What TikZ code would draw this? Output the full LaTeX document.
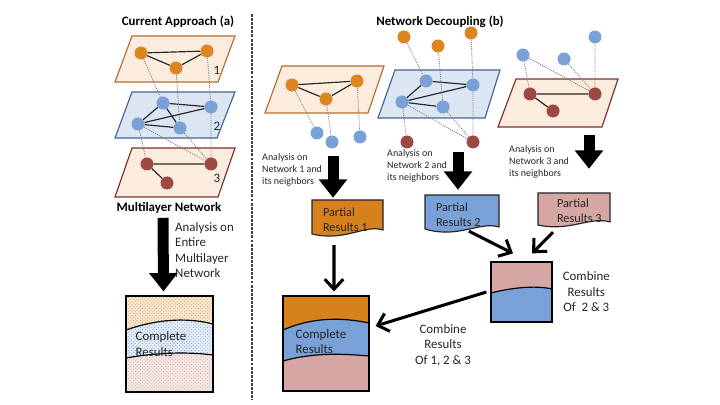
\documentclass[tikz,border=0pt]{standalone}
\usepackage{fontspec}
\setmainfont{Carlito}
\usepackage{tikz}
\usetikzlibrary{arrows.meta,positioning,patterns}

\definecolor{orangen}{RGB}{219,133,35}
\definecolor{bluen}{RGB}{122,160,216}
\definecolor{redn}{RGB}{158,72,68}
\definecolor{peach}{RGB}{252,236,222}
\definecolor{paleblue}{RGB}{220,230,242}
\definecolor{orangeb}{RGB}{180,110,50}
\definecolor{blueb}{RGB}{70,100,150}
\definecolor{redb}{RGB}{120,50,45}
\definecolor{rose}{RGB}{214,166,164}
\definecolor{resorange}{RGB}{214,128,30}

\begin{document}
\begin{tikzpicture}[x=0.03cm, y=-0.03cm,
    onode/.style={circle, fill=orangen, minimum size=0.39cm, inner sep=0pt},
    bnode/.style={circle, fill=bluen, minimum size=0.39cm, inner sep=0pt},
    rnode/.style={circle, fill=redn, minimum size=0.39cm, inner sep=0pt},
    ln/.style={line width=1pt, black!85},
    dl/.style={line width=0.7pt, gray, dash pattern=on 0.9pt off 0.9pt},
    plane/.style={line width=1pt},
    ttl/.style={font=\bfseries\fontsize{11}{13}\selectfont, inner sep=0pt},
    lbl/.style={font=\fontsize{11}{13.2}\selectfont, text=black!85, inner sep=0pt},
    small/.style={font=\fontsize{8.5}{10.2}\selectfont, text=black!85, inner sep=0pt, align=left},
    box/.style={draw, line width=1pt, inner sep=0pt},
    doc/.style={inner sep=0pt},
    bigarrow/.style={line width=0.33cm, -{Triangle[width=0.82cm, length=0.55cm]}},
    arr/.style={line width=2.6pt, -{Straight Barb[length=0.3cm, width=0.56cm]}}]

    \useasboundingbox (0,0) rectangle (720,405);

    % divider
    \draw[line width=1.5pt, black!75, dash pattern=on 2.5pt off 1pt] (252,14) -- (252,400);

    % titles
    \node[ttl] (ta) at (178,22) {Current Approach (a)};
    \node[ttl] (tb) at (440,22) {Network Decoupling (b)};

    % multilayer planes
    \filldraw[plane, fill=peach, draw=orangeb] (132,36) -- (235,36) -- (218,82) -- (115,82) -- cycle;
    \filldraw[plane, fill=paleblue, draw=blueb] (132,92) -- (235,92) -- (217,138) -- (115,138) -- cycle;
    \filldraw[plane, fill=peach, draw=redb] (132,148) -- (235,148) -- (218,197) -- (115,197) -- cycle;
    \node[lbl] (l1) at (217,70) {1};
    \node[lbl] (l2) at (217,126) {2};
    \node[lbl] (l3) at (217,178) {3};

    \node[onode] (lo1) at (141,53) {};
    \node[onode] (lo2) at (207,51) {};
    \node[onode] (lo3) at (176,68) {};
    \node[bnode] (lb1) at (163,103) {};
    \node[bnode] (lb2) at (211,107) {};
    \node[bnode] (lb3) at (138,124) {};
    \node[bnode] (lb4) at (180,128) {};
    \node[rnode] (lr1) at (147,164) {};
    \node[rnode] (lr2) at (211,164) {};
    \node[rnode] (lr3) at (167,183) {};

    \draw[ln] (lo1) -- (lo2) (lo1) -- (lo3) (lo3) -- (lo2);
    \draw[ln] (lb1) -- (lb2) (lb1) -- (lb3) (lb1) -- (lb4) (lb3) -- (lb2) (lb3) -- (lb4);
    \draw[ln] (lr1) -- (lr2) (lr1) -- (lr3);
    \draw[dl] (lo1) -- (lb1) (lo3) -- (lb4) (lo2) -- (lb2);
    \draw[dl] (lb3) -- (lr1) (lb3) -- (lr2) (lb4) -- (lr2) (lb2) -- (lr2);

    \node[ttl] (ml) at (169,208) {Multilayer Network};

    % network 1 and neighbors
    \filldraw[plane, fill=peach, draw=orangeb] (282,66) -- (384,66) -- (368,113) -- (265,113) -- cycle;
    \node[onode] (o1) at (292,85) {};
    \node[onode] (o2) at (357,81) {};
    \node[onode] (o3) at (326,99) {};
    \node[bnode] (b1) at (317,133) {};
    \node[bnode] (b2) at (332,142) {};
    \node[bnode] (b3) at (360,137) {};
    \draw[ln] (o1) -- (o2) (o1) -- (o3) (o3) -- (o2);
    \draw[dl] (o1) -- (b1) (o3) -- (b2) (o2) -- (b3);

    % network 2 and neighbors
    \filldraw[plane, fill=paleblue, draw=blueb] (395,70) -- (500,70) -- (485,118) -- (378,118) -- cycle;
    \node[bnode] (b4) at (426,81) {};
    \node[bnode] (b5) at (473,85) {};
    \node[bnode] (b6) at (402,102) {};
    \node[bnode] (b7) at (443,107) {};
    \node[onode] (o4) at (404,37) {};
    \node[onode] (o5) at (438,46) {};
    \node[onode] (o6) at (471,33) {};
    \node[rnode] (r1) at (407,142) {};
    \node[rnode] (r2) at (473,142) {};
    \draw[ln] (b4) -- (b5) (b4) -- (b6) (b6) -- (b5) (b6) -- (b7);
    \draw[dl] (o4) -- (b4) (o5) -- (b7) (o6) -- (b5);
    \draw[dl] (b6) -- (r1) (b6) -- (r2) (b7) -- (r2) (b5) -- (r2);

    % network 3 and neighbors
    \filldraw[plane, fill=peach, draw=redb] (516,79) -- (618,79) -- (602,127) -- (498,127) -- cycle;
    \node[rnode] (r3) at (530,94) {};
    \node[rnode] (r4) at (595,94) {};
    \node[rnode] (r5) at (553,111) {};
    \node[bnode] (b8) at (523,55) {};
    \node[bnode] (b9) at (564,59) {};
    \node[bnode] (b10) at (595,37) {};
    \draw[ln] (r3) -- (r4) (r3) -- (r5);
    \draw[dl] (b8) -- (r3) (b8) -- (r4) (b9) -- (r4) (b10) -- (r4);

    % analysis labels
    \node[lbl, anchor=west, align=left] (aml) at (175,250) {Analysis on\\Entire\\Multilayer\\Network};
    \node[small, anchor=west] (an1) at (262,170) {Analysis on\\Network 1 and\\its neighbors};
    \node[small, anchor=west] (an2) at (387,166) {Analysis on\\Network 2 and\\its neighbors};
    \node[small, anchor=west] (an3) at (509,162) {Analysis on\\Network 3 and\\its neighbors};

    % complete results, left (textured)
    \fill[resorange!18] (126,296) -- (213,296) -- (213,324) .. controls (190,318) and (160,318) .. (126,330) -- cycle;
    \fill[pattern=crosshatch dots, pattern color=resorange!80] (126,296) -- (213,296) -- (213,324) .. controls (190,318) and (160,318) .. (126,330) -- cycle;
    \fill[bluen!18] (213,324) .. controls (190,318) and (160,318) .. (126,330) -- (126,358) .. controls (160,352) and (190,352) .. (213,355) -- cycle;
    \fill[pattern=crosshatch dots, pattern color=bluen] (213,324) .. controls (190,318) and (160,318) .. (126,330) -- (126,358) .. controls (160,352) and (190,352) .. (213,355) -- cycle;
    \fill[rose!25] (126,358) .. controls (160,352) and (190,352) .. (213,355) -- (213,392) -- (126,392) -- cycle;
    \fill[pattern=crosshatch dots, pattern color=rose] (126,358) .. controls (160,352) and (190,352) .. (213,355) -- (213,392) -- (126,392) -- cycle;
    \draw[line width=1pt] (213,324) .. controls (190,318) and (160,318) .. (126,330);
    \draw[line width=1pt] (126,358) .. controls (160,352) and (190,352) .. (213,355);
    \node[box, minimum width=2.61cm, minimum height=2.88cm,
          label={[lbl, anchor=west, align=left, xshift=0.3cm]west:{Complete\\Results}}] (cl) at (169.5,344) {};

    \draw[bigarrow] ([xshift=-0.18cm, yshift=-0.12cm]ml.south) -- ([xshift=-0.18cm, yshift=0.12cm]cl.north);

    % partial results
    \filldraw[fill=resorange, draw=black!85, line width=1pt] (312,200) -- (383,200) -- (383,230) .. controls (365,224) and (345,242) .. (312,234) -- cycle;
    \filldraw[fill=bluen, draw=black!85, line width=1pt] (425,195) -- (499,195) -- (499,227) .. controls (480,221) and (458,239) .. (425,229) -- cycle;
    \filldraw[fill=rose, draw=black!85, line width=1pt] (538,193) -- (610,193) -- (610,222) .. controls (590,216) and (570,232) .. (538,225) -- cycle;
    \node[doc, minimum width=2.13cm, minimum height=1.05cm,
          label={[lbl, font=\fontsize{10.5}{12.8}\selectfont, anchor=west, align=left, xshift=0.33cm, yshift=-0.075cm]west:{Partial\\Results 1}}] (pr1) at (347.5,217.5) {};
    \node[doc, minimum width=2.22cm, minimum height=1.02cm,
          label={[lbl, font=\fontsize{10.5}{12.8}\selectfont, anchor=west, align=left, xshift=0.33cm, yshift=-0.09cm]west:{Partial\\Results 2}}] (pr2) at (462,212) {};
    \node[doc, minimum width=2.16cm, minimum height=0.96cm,
          label={[lbl, font=\fontsize{10.5}{12.8}\selectfont, anchor=west, align=left, xshift=0.57cm, yshift=-0.06cm]west:{Partial\\Results 3}}] (pr3) at (574,209) {};

    \coordinate (d1) at (333,156);
    \coordinate (d2) at (458,152);
    \coordinate (d3) at (589,135);
    \draw[bigarrow, shorten >=0.06cm] (d1) -- (d1 |- pr1.north);
    \draw[bigarrow, shorten >=0.15cm] (d2) -- (d2 |- pr2.north);
    \draw[bigarrow, shorten >=0.72cm] (d3) -- (d3 |- pr3.north);

    % combined results of 2 & 3
    \fill[rose] (491,262) -- (552,262) -- (552,289) .. controls (535,285) and (510,288) .. (491,293) -- cycle;
    \fill[bluen] (491,293) .. controls (510,288) and (535,285) .. (552,289) -- (552,322) -- (491,322) -- cycle;
    \draw[line width=1pt] (491,293) .. controls (510,288) and (535,285) .. (552,289);
    \node[box, minimum width=1.83cm, minimum height=1.8cm] (cb) at (521.5,292) {};
    \node[lbl, align=center, right=0.3cm of cb] (cbt) {Combine\\Results\\Of\ \ 2 \& 3};

    % complete results, right
    \fill[resorange] (283,296) -- (369,296) -- (369,323) .. controls (345,318) and (315,316) .. (283,330) -- cycle;
    \fill[bluen] (369,323) .. controls (345,318) and (315,316) .. (283,330) -- (283,361) .. controls (315,352) and (345,354) .. (369,356) -- cycle;
    \fill[rose] (283,361) .. controls (315,352) and (345,354) .. (369,356) -- (369,391) -- (283,391) -- cycle;
    \draw[line width=1pt] (369,323) .. controls (345,318) and (315,316) .. (283,330);
    \draw[line width=1pt] (283,361) .. controls (315,352) and (345,354) .. (369,356);
    \node[box, minimum width=2.58cm, minimum height=2.85cm,
          label={[lbl, anchor=west, align=left, xshift=0.39cm, yshift=0.06cm]west:{Complete\\Results}}] (cr) at (326,343.5) {};

    \node[lbl, align=center] (crt) at (443,345) {Combine\\Results\\Of 1, 2 \& 3};

    % result arrows
    \draw[arr] ([xshift=-0.405cm, yshift=-0.3cm]pr1.south) -- ([xshift=0.24cm, yshift=0.12cm]cr.north);
    \draw[arr] ([xshift=0.21cm, yshift=-0.06cm]pr2.south) -- ([xshift=-0.255cm, yshift=0.24cm]cb.north);
    \draw[arr] ([xshift=-0.63cm, yshift=-0.21cm]pr3.south) -- ([xshift=0.315cm, yshift=0.24cm]cb.north);
    \draw[arr] ([xshift=-0.12cm]cb.west) -- ([xshift=0.18cm, yshift=0.525cm]cr.east);
\end{tikzpicture}
\end{document}
